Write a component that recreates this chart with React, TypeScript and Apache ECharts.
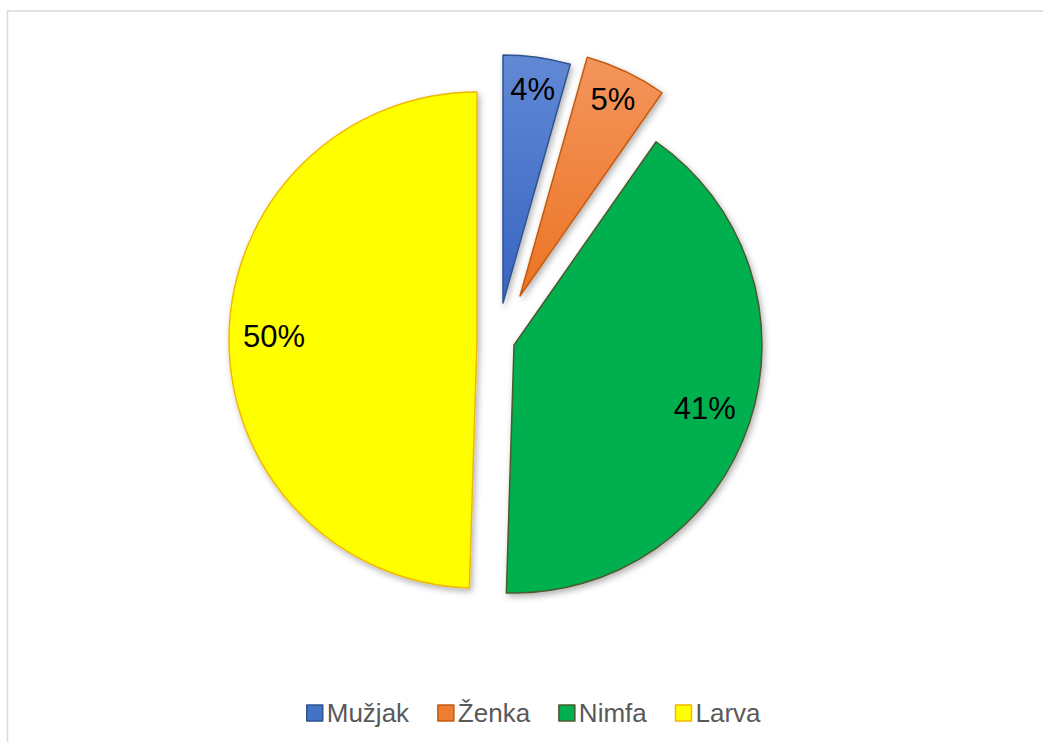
import React, { useEffect, useRef } from "react";
import * as echarts from "echarts";

// ---- Data ----
const categories = ["Mužjak", "Ženka", "Nimfa", "Larva"];
const values = [4.37, 5.34, 40.78, 49.51];

// ---- Styles ----
const fills: any[] = [
  { type: "linear", x: 0, y: 0, x2: 0, y2: 1, colorStops: [{ offset: 0, color: "#6189d5" }, { offset: 1, color: "#3764c2" }] },
  { type: "linear", x: 0, y: 0, x2: 0, y2: 1, colorStops: [{ offset: 0, color: "#f3955c" }, { offset: 1, color: "#ec7424" }] },
  "#00b050",
  "#ffff00",
];
const legendFills = ["#4472c4", "#ed7d31", "#00b050", "#ffff00"];
const borders = ["#2f528f", "#c55a11", "#4b5a2e", "#f2b700"];
const centers = [
  [503, 303],
  [520, 296],
  [514, 345],
  [477, 340],
];
const R = 248;
const labelInner = [178, 180, 148, 152];
const FONT = "'Liberation Sans', Arial, sans-serif";

const hidden = {
  color: "rgba(0,0,0,0)",
  borderWidth: 0,
  shadowBlur: 0,
  shadowColor: "rgba(0,0,0,0)",
};

export default function App() {
  const ref = useRef<HTMLDivElement>(null);
  useEffect(() => {
    if (!ref.current) return;
    const chart = echarts.init(ref.current, null, { renderer: "svg" });
    const series: any[] = [];
    categories.forEach((_, i) => {
      series.push({
        type: "pie",
        center: centers[i],
        radius: [0, R],
        startAngle: 90,
        clockwise: true,
        silent: true,
        label: { show: false },
        labelLine: { show: false },
        emphasis: { disabled: true },
        data: categories.map((n, j) => ({
          name: n,
          value: values[j],
          itemStyle:
            j === i
              ? {
                  color: fills[i],
                  borderColor: borders[i],
                  borderWidth: 1.5,
                  shadowBlur: 6,
                  shadowOffsetX: 2,
                  shadowOffsetY: 3,
                  shadowColor: "rgba(0,0,0,0.3)",
                }
              : hidden,
        })),
      });
    });
    categories.forEach((_, i) => {
      series.push({
        type: "pie",
        center: centers[i],
        radius: [labelInner[i], R],
        startAngle: 90,
        clockwise: true,
        silent: true,
        labelLine: { show: false },
        emphasis: { disabled: true },
        label: {
          show: true,
          position: "inside",
          fontSize: 31,
          fontFamily: FONT,
          color: "#000000",
          formatter: (p: any) => Math.round(p.percent) + "%",
        },
        data: categories.map((n, j) => ({
          name: n,
          value: values[j],
          itemStyle: hidden,
          label: { show: j === i },
        })),
      });
    });
    chart.setOption({
      animation: false,
      backgroundColor: "#ffffff",
      graphic: [
        {
          type: "rect",
          shape: { x: 7.5, y: 11, width: 1100, height: 800 },
          style: { fill: "none", stroke: "#d9d9d9", lineWidth: 1.5 },
          silent: true,
        },
      ],
      legend: {
        left: 301,
        top: 695,
        itemWidth: 16,
        itemHeight: 16,
        itemGap: 28,
        icon: "rect",
        selectedMode: false,
        textStyle: { fontSize: 26, fontFamily: FONT, color: "#595959", padding: [0, 0, 0, -1] },
        data: categories.map((n, i) => ({
          name: n,
          itemStyle: { color: legendFills[i], borderColor: borders[i], borderWidth: 1.5 },
        })),
      },
      series,
    });
    return () => chart.dispose();
  }, []);
  return (
    <div
      ref={ref}
      style={{ position: "fixed", left: 0, top: 0, width: 1043, height: 742 }}
    />
  );
}
